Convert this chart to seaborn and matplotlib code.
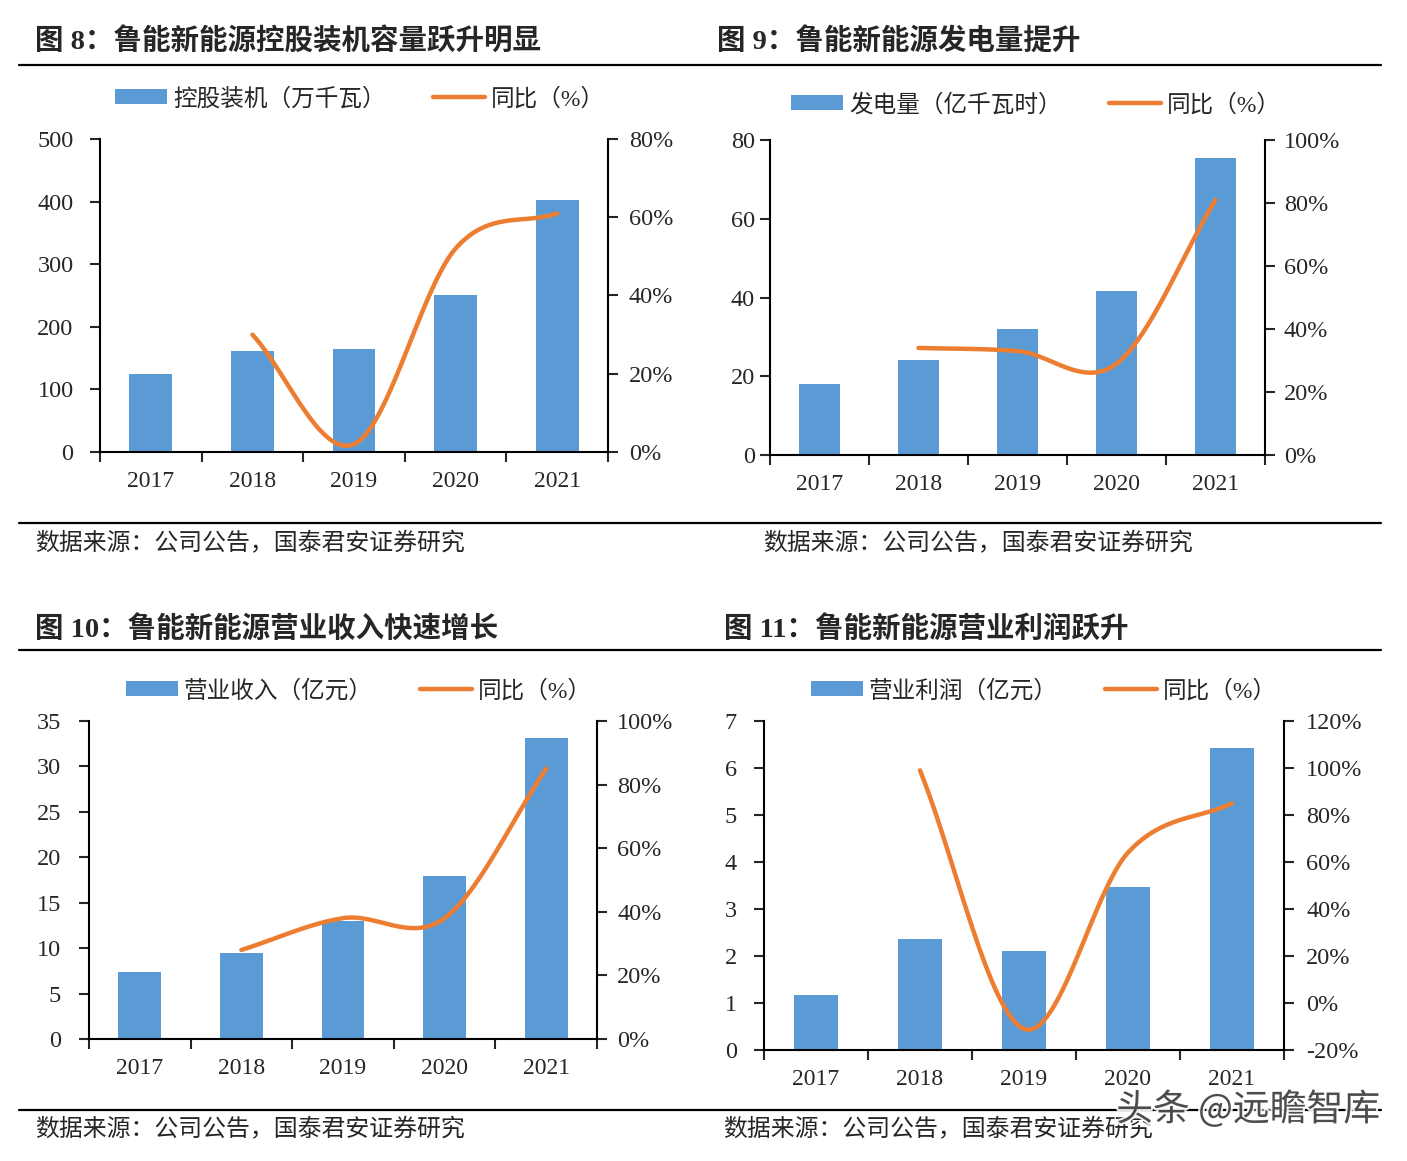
import numpy as np
import pandas as pd
import matplotlib
matplotlib.use("Agg")
import matplotlib.pyplot as plt
import matplotlib.patheffects as pe
from matplotlib.patches import Patch
from matplotlib.lines import Line2D
import seaborn as sns

sns.set_style("ticks")
plt.rcParams['font.family'] = ['Liberation Serif', 'Noto Sans CJK SC', 'DejaVu Sans']
plt.rcParams['axes.unicode_minus'] = False

years = ['2017', '2018', '2019', '2020', '2021']

# 图8 控股装机
cap = [125, 161, 165, 251, 403]
cap_yoy = [30, 2, 52, 61]
# 图9 发电量
gen = [18.0, 24.1, 32.0, 41.6, 75.4]
gen_yoy = [34, 33, 29, 81]
# 图10 营业收入
rev = [7.4, 9.5, 13.0, 17.9, 33.1]
rev_yoy = [28, 38, 38, 85]
# 图11 营业利润
profit = [1.17, 2.36, 2.11, 3.47, 6.43]
profit_yoy = [99, -11, 64, 85]

BAR_C = '#5B9BD5'
LINE_C = '#ED7D31'
CJK = ['Liberation Serif', 'Noto Sans CJK SC']
W, H = 1407, 1161

fig = plt.figure(figsize=(W / 100, H / 100), dpi=100)


def rect(l, r, t, b):
    return [l / W, 1 - b / H, (r - l) / W, (b - t) / H]


def smooth(xs, ys, n=40):
    # excel-like smoothed line (catmull-rom)
    xs = np.asarray(xs, float)
    ys = np.asarray(ys, float)
    m = np.zeros_like(ys)
    m[0] = ys[1] - ys[0]
    m[-1] = ys[-1] - ys[-2]
    m[1:-1] = (ys[2:] - ys[:-2]) / 2
    px, py = [], []
    t = np.linspace(0, 1, n)
    h00 = 2 * t**3 - 3 * t**2 + 1
    h10 = t**3 - 2 * t**2 + t
    h01 = -2 * t**3 + 3 * t**2
    h11 = t**3 - t**2
    for i in range(len(xs) - 1):
        px.append(xs[i] + t * (xs[i + 1] - xs[i]))
        py.append(h00 * ys[i] + h10 * m[i] + h01 * ys[i + 1] + h11 * m[i + 1])
    return np.concatenate(px), np.concatenate(py)


def panel(box, vals, yoy, yticks, y2ticks, bar_name, leg_xy, lpad, rpad):
    ax = fig.add_axes(rect(*box))
    df = pd.DataFrame({'year': years, 'val': vals})
    sns.barplot(data=df, x='year', y='val', ax=ax, color=BAR_C, saturation=1,
                width=0.42, linewidth=0)
    ax.set_xlim(-0.5, 4.5)
    ax.set_ylim(yticks[0], yticks[-1])
    ax.set_yticks(yticks)
    ax.set_xlabel('')
    ax.set_ylabel('')
    ax.set_xticks(range(5))
    ax.set_xticklabels(years)
    ax.set_xticks(np.arange(-0.5, 5, 1), minor=True)
    ax.tick_params(axis='x', which='major', length=0, pad=14, labelsize=17)
    ax.tick_params(axis='x', which='minor', length=7, width=1.5, direction='out')
    ax.tick_params(axis='y', length=7, width=1.5, direction='out', pad=lpad, labelsize=17.5)
    for s in ['top', 'right']:
        ax.spines[s].set_visible(False)
    for s in ['left', 'bottom']:
        ax.spines[s].set_linewidth(1.5)
        ax.spines[s].set_color('black')

    ax2 = ax.twinx()
    sx, sy = smooth(range(1, 5), yoy)
    ax2.plot(sx, sy, color=LINE_C, lw=3.2, solid_capstyle='round')
    ax2.set_ylim(y2ticks[0], y2ticks[-1])
    ax2.set_yticks(y2ticks)
    ax2.set_yticklabels([f'{v}%' for v in y2ticks])
    ax2.tick_params(axis='y', length=7, width=1.5, direction='out', pad=rpad, labelsize=17.5)
    for s in ['top', 'left', 'bottom']:
        ax2.spines[s].set_visible(False)
    ax2.spines['right'].set_linewidth(1.5)
    ax2.spines['right'].set_color('black')

    handles = [Patch(facecolor=BAR_C, edgecolor='none'),
               Line2D([], [], color=LINE_C, lw=3.2)]
    fig.legend(handles, [bar_name, '同比（%）'], loc='center', ncol=2,
               bbox_to_anchor=(leg_xy[0] / W, 1 - leg_xy[1] / H), frameon=False,
               handlelength=2.2, handleheight=0.6, handletextpad=0.25,
               columnspacing=2.0, prop={'family': CJK, 'size': 17})
    return ax


panel((100, 608, 139, 452), cap, cap_yoy, list(range(0, 501, 100)),
      list(range(0, 81, 20)), '控股装机（万千瓦）', (360, 99), 12, 8)
panel((770, 1265, 140, 455), gen, gen_yoy, list(range(0, 81, 20)),
      list(range(0, 101, 20)), '发电量（亿千瓦时）', (1036, 105), 4, 6.5)
panel((89, 597, 721, 1039), rev, rev_yoy, list(range(0, 36, 5)),
      list(range(0, 101, 20)), '营业收入（亿元）', (359, 691), 13, 7.5)
panel((764, 1284, 721, 1050), profit, profit_yoy, list(range(0, 8, 1)),
      list(range(-20, 121, 20)), '营业利润（亿元）', (1044, 691), 12.5, 9)

# titles
titles = [('图 8：鲁能新能源控股装机容量跃升明显', 35, 42),
          ('图 9：鲁能新能源发电量提升', 717, 42),
          ('图 10：鲁能新能源营业收入快速增长', 35, 629),
          ('图 11：鲁能新能源营业利润跃升', 724, 629)]
for txt, x, y in titles:
    fig.text(x / W, 1 - y / H, txt, fontsize=20.5, fontweight='bold',
             family=CJK, ha='left', va='center')

# source notes
src = '数据来源：公司公告，国泰君安证券研究'
for x, y in [(35, 544), (763, 544), (35, 1130), (723, 1130)]:
    fig.text(x / W, 1 - y / H, src, fontsize=17.2, family=CJK, ha='left', va='center')

# separator lines
for y in [65, 523, 650, 1110]:
    fig.add_artist(Line2D([19 / W, 1381 / W], [1 - y / H, 1 - y / H],
                          color='black', lw=1.6))

# watermark
fig.text(1248 / W, 1 - 1110 / H, '头条 @远瞻智库', fontsize=26.5, family=['Noto Sans CJK SC'],
         color='#3a3a3a', ha='center', va='center', alpha=0.9,
         path_effects=[pe.withStroke(linewidth=3, foreground='white')])

fig.savefig('out.png', dpi=100)
